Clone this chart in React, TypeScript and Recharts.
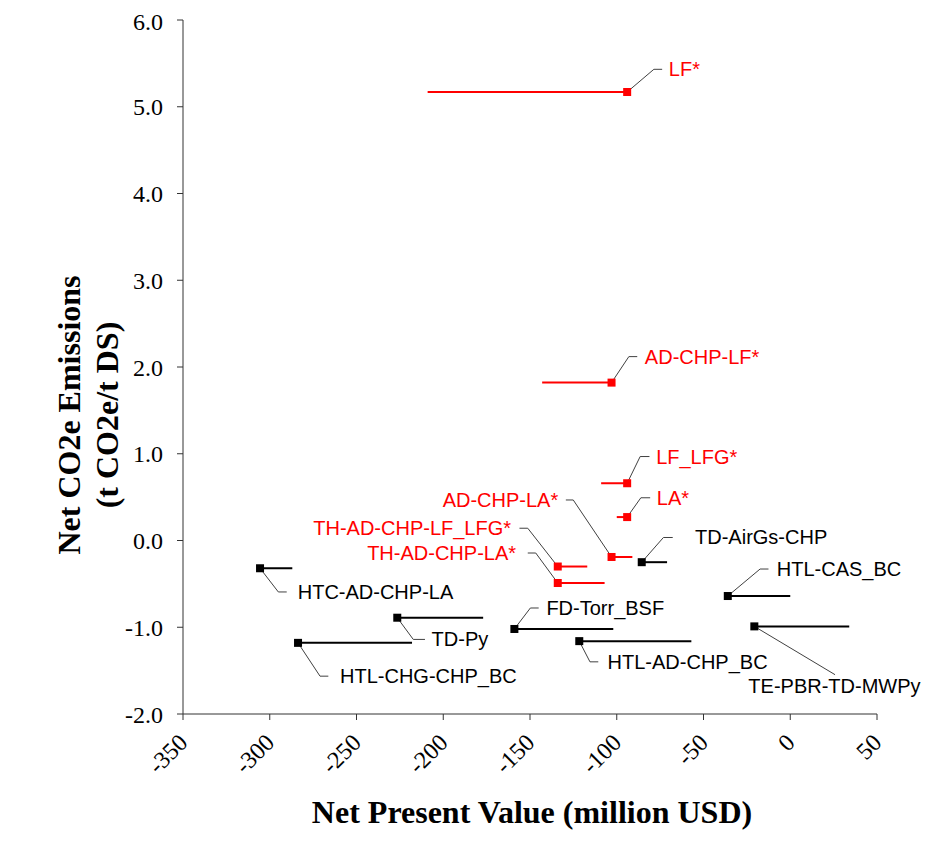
import { ErrorBar, Label, Scatter, ScatterChart, XAxis, YAxis } from 'recharts';

// scenario names, marker NPV (million USD), emissions (t CO2e/t DS), other end of NPV range
const names = [
  'LF*', 'AD-CHP-LF*', 'LF_LFG*', 'LA*', 'AD-CHP-LA*', 'TH-AD-CHP-LF_LFG*', 'TH-AD-CHP-LA*',
  'TD-AirGs-CHP', 'HTC-AD-CHP-LA', 'TD-Py', 'HTL-CHG-CHP_BC', 'FD-Torr_BSF', 'HTL-AD-CHP_BC',
  'HTL-CAS_BC', 'TE-PBR-TD-MWPy',
];
const npv = [-94, -103, -94, -94, -103, -134, -134, -85.6, -305.6, -226.5, -283.7, -159, -121.6, -36, -20.7];
const emissions = [5.17, 1.82, 0.66, 0.27, -0.19, -0.3, -0.49, -0.25, -0.32, -0.89, -1.18, -1.02, -1.16, -0.64, -0.99];
const npvRangeEnd = [-209, -143, -109, -100, -91, -117, -107, -71, -287, -177, -218, -102, -57, 0, 34];
const landfillCase = [true, true, true, true, true, true, true, false, false, false, false, false, false, false, false];

const xTicks = [-350, -300, -250, -200, -150, -100, -50, 0, 50];
const yTicks = [-2, -1, 0, 1, 2, 3, 4, 5, 6];

// callout placement, px relative to marker: elbow (ex, ey), end of short leg (lx), text x (tx), text y (ty)
type Callout = { ex: number; ey: number; lx: number; tx: number; ty?: number; anchor: 'start' | 'end' };
const callouts: Record<string, Callout> = {
  'LF*': { ex: 26.7, ey: -22.7, lx: 35, tx: 41.7, anchor: 'start' },
  'AD-CHP-LF*': { ex: 17.3, ey: -26, lx: 25.7, tx: 33.3, anchor: 'start' },
  'LF_LFG*': { ex: 13, ey: -26.7, lx: 22.3, tx: 29, anchor: 'start' },
  'LA*': { ex: 13.7, ey: -19.3, lx: 23, tx: 29.7, anchor: 'start' },
  'AD-CHP-LA*': { ex: -38.3, ey: -57, lx: -45.7, tx: -53.3, anchor: 'end' },
  'TH-AD-CHP-LF_LFG*': { ex: -30, ey: -38.3, lx: -38.3, tx: -46.7, anchor: 'end' },
  'TH-AD-CHP-LA*': { ex: -22, ey: -30, lx: -30, tx: -41.7, anchor: 'end' },
  'TD-AirGs-CHP': { ex: 21.7, ey: -24.7, lx: 31, tx: 53.3, anchor: 'start' },
  'HTC-AD-CHP-LA': { ex: 18.3, ey: 23.7, lx: 26.7, tx: 37.7, anchor: 'start' },
  'TD-Py': { ex: 16, ey: 21.7, lx: 27.7, tx: 34.3, anchor: 'start' },
  'HTL-CHG-CHP_BC': { ex: 22, ey: 33.3, lx: 30.3, tx: 42, anchor: 'start' },
  'FD-Torr_BSF': { ex: 16, ey: -21, lx: 24.3, tx: 32, anchor: 'start' },
  'HTL-AD-CHP_BC': { ex: 10.7, ey: 20.7, lx: 19, tx: 28.3, anchor: 'start' },
  'HTL-CAS_BC': { ex: 32.3, ey: -27, lx: 40.7, tx: 49, anchor: 'start' },
  'TE-PBR-TD-MWPy': { ex: 80.7, ey: 48.3, lx: 80.7, tx: -6, ty: 60, anchor: 'start' },
};

const rows = names.map((name, i) => ({
  name,
  x: npv[i],
  y: emissions[i],
  err: [npv[i] - Math.min(npv[i], npvRangeEnd[i]), Math.max(npv[i], npvRangeEnd[i]) - npv[i]],
  red: landfillCase[i],
}));
const redRows = rows.filter((r) => r.red);
const blackRows = rows.filter((r) => !r.red);

const SERIF = '"Liberation Serif", "Times New Roman", serif';
const SANS = '"Liberation Sans", Arial, sans-serif';

function makeMarker(color: string) {
  return (props: any) => {
    const { cx, cy, payload } = props;
    const c = callouts[payload.name];
    return (
      <g>
        <polyline
          points={`${cx},${cy} ${cx + c.ex},${cy + c.ey} ${cx + c.lx},${cy + c.ey}`}
          fill="none"
          stroke="#404040"
          strokeWidth={1}
        />
        <rect x={cx - 4} y={cy - 4} width={8} height={8} fill={color} />
        <text
          x={cx + c.tx}
          y={cy + (c.ty ?? c.ey) + 7}
          textAnchor={c.anchor}
          fontFamily={SANS}
          fontSize={20}
          fill={color}
        >
          {payload.name}
        </text>
      </g>
    );
  };
}

const XTick = (props: any) => {
  const { x, y, payload } = props;
  const px = x + 6;
  const py = y + 24;
  return (
    <text x={px} y={py} textAnchor="end" transform={`rotate(-45, ${px}, ${py})`} fontFamily={SERIF} fontSize={24} fill="#000">
      {payload.value}
    </text>
  );
};

export default function App() {
  return (
    <ScatterChart width={935} height={831} margin={{ top: 12, right: 66, left: 0, bottom: 0 }}>
      <XAxis
        type="number"
        dataKey="x"
        domain={[-350, 50]}
        ticks={xTicks}
        tick={<XTick />}
        tickSize={6}
        tickMargin={0}
        height={125}
        stroke="#333"
      >
        <Label
          content={() => (
            <text x={524} y={815} textAnchor="middle" fontFamily={SERIF} fontWeight="bold" fontSize={32} fill="#000">
              Net Present Value (million USD)
            </text>
          )}
        />
      </XAxis>
      <YAxis
        type="number"
        dataKey="y"
        domain={[-2, 6]}
        ticks={yTicks}
        tickFormatter={(v: number) => v.toFixed(1)}
        tick={{ fontFamily: SERIF, fontSize: 24, fill: '#000' }}
        tickSize={6}
        tickMargin={14}
        width={175}
        stroke="#333"
      >
        <Label
          content={() => (
            <g fontFamily={SERIF} fontWeight="bold" fontSize={32} fill="#000" textAnchor="middle">
              <text x={72} y={407} transform="rotate(-90, 72, 407)">Net CO2e Emissions</text>
              <text x={110} y={407} transform="rotate(-90, 110, 407)">(t CO2e/t DS)</text>
            </g>
          )}
        />
      </YAxis>
      <Scatter data={redRows} fill="#ff0000" shape={makeMarker('#ff0000')} isAnimationActive={false}>
        <ErrorBar dataKey="err" direction="x" width={0} stroke="#ff0000" strokeWidth={2} isAnimationActive={false} />
      </Scatter>
      <Scatter data={blackRows} fill="#000" shape={makeMarker('#000')} isAnimationActive={false}>
        <ErrorBar dataKey="err" direction="x" width={0} stroke="#000" strokeWidth={2} isAnimationActive={false} />
      </Scatter>
    </ScatterChart>
  );
}
